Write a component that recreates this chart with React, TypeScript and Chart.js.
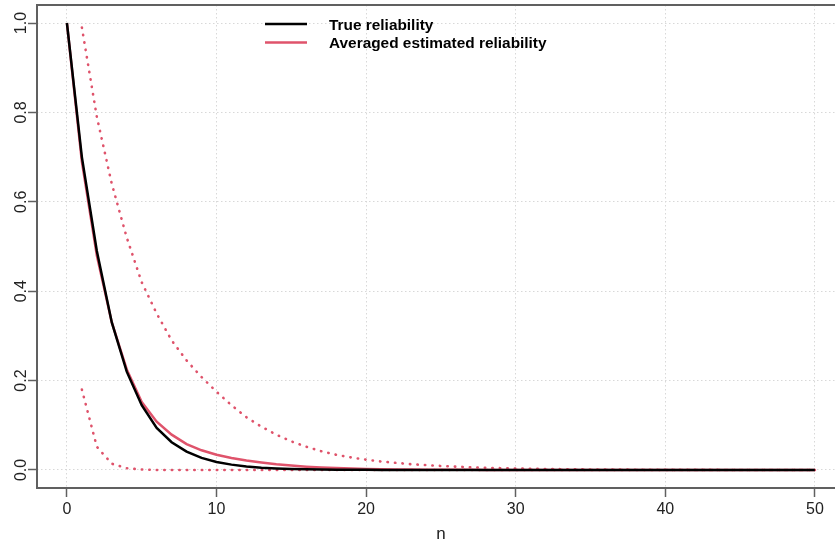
import React, { useEffect, useRef } from "react";
import { Chart, registerables } from "chart.js";

Chart.register(...registerables);

// ---- data ----
const N_ALL = [
  0, 1, 2, 3, 4, 5, 6, 7, 8, 9, 10, 11, 12, 13, 14, 15, 16, 17, 18, 19, 20, 21, 22, 23, 24, 25,
  26, 27, 28, 29, 30, 31, 32, 33, 34, 35, 36, 37, 38, 39, 40, 41, 42, 43, 44, 45, 46, 47, 48, 49, 50,
];
const N_BOUNDS = [
  1, 2, 3, 4, 5, 6, 7, 8, 9, 10, 11, 12, 13, 14, 15, 16, 17, 18, 19, 20, 21, 22, 23, 24, 25,
  26, 27, 28, 29, 30, 31, 32, 33, 34, 35, 36, 37, 38, 39, 40, 41, 42, 43, 44, 45, 46, 47, 48, 49, 50,
];

const TRUE_RELIABILITY = [
  1.0, 0.7, 0.49, 0.33, 0.22, 0.145, 0.094, 0.062, 0.041, 0.027, 0.018, 0.012, 0.008, 0.005,
  0.0034, 0.0023, 0.0015, 0.001, 0.0007, 0.0005, 0.0003, 0.0002, 0.0001, 0.0001, 0,
  0, 0, 0, 0, 0, 0, 0, 0, 0, 0, 0, 0, 0, 0, 0, 0, 0, 0, 0, 0, 0, 0, 0, 0, 0, 0,
];

const AVG_ESTIMATED = [
  1.0, 0.69, 0.48, 0.33, 0.225, 0.152, 0.108, 0.079, 0.058, 0.044, 0.034, 0.027, 0.021, 0.017,
  0.013, 0.01, 0.0075, 0.0056, 0.0042, 0.0032, 0.0024, 0.0018, 0.0013, 0.001, 0.0007, 0.0005,
  0.0004, 0.0003, 0.0002, 0.0001, 0,
  0, 0, 0, 0, 0, 0, 0, 0, 0, 0, 0, 0, 0, 0, 0, 0, 0, 0, 0, 0,
];

const UPPER_BOUND = [
  0.99, 0.79, 0.64, 0.52, 0.42, 0.35, 0.29, 0.245, 0.208, 0.175, 0.145, 0.118, 0.097, 0.079,
  0.064, 0.052, 0.042, 0.034, 0.028, 0.023, 0.019, 0.016, 0.013, 0.011, 0.009, 0.0075, 0.006,
  0.005, 0.004, 0.0033, 0.0027, 0.0022, 0.0018, 0.0015, 0.0012, 0.001, 0.0008, 0.0006, 0.0005,
  0.0004, 0.0003, 0.0002, 0.0002, 0.0001, 0.0001, 0.0001, 0, 0, 0, 0,
];

const LOWER_BOUND = [
  0.18, 0.052, 0.014, 0.004, 0.001, 0, 0, 0, 0, 0, 0, 0, 0, 0, 0, 0, 0, 0, 0, 0, 0, 0, 0, 0, 0,
  0, 0, 0, 0, 0, 0, 0, 0, 0, 0, 0, 0, 0, 0, 0, 0, 0, 0, 0, 0, 0, 0, 0, 0, 0,
];

const SERIES_LABELS = ["True reliability", "Averaged estimated reliability"];
const X_TICKS = [0, 10, 20, 30, 40, 50];
const X_TICK_LABELS = ["0", "10", "20", "30", "40", "50"];
const Y_TICKS = [0, 0.2, 0.4, 0.6, 0.8, 1.0];
const Y_TICK_LABELS = ["0.0", "0.2", "0.4", "0.6", "0.8", "1.0"];
const X_TITLE = "n";

// ---- styles ----
const RED = "#DF536B";
const BLACK = "#000000";
const BOX_COLOR = "#606060";
const GRID_COLOR = "#d8d8d8";
const TEXT_COLOR = "#222222";
const FONT_FAMILY = "'Liberation Sans', Arial, sans-serif";

const toPoints = (xs: number[], ys: number[]) => xs.map((x, i) => ({ x, y: ys[i] }));

const decorPlugin = {
  id: "decor",
  afterDraw(chart: any) {
    const { ctx, chartArea: a, scales } = chart;
    const xs = scales.x;
    const ys = scales.y;
    ctx.save();

    // box: top, left, bottom (the right side lies beyond the visible page)
    ctx.strokeStyle = BOX_COLOR;
    ctx.lineWidth = 2;
    ctx.setLineDash([]);
    ctx.beginPath();
    ctx.moveTo(a.right, a.top);
    ctx.lineTo(a.left, a.top);
    ctx.lineTo(a.left, a.bottom);
    ctx.lineTo(a.right, a.bottom);
    ctx.stroke();

    // tick labels
    ctx.fillStyle = TEXT_COLOR;
    ctx.font = `16px ${FONT_FAMILY}`;
    ctx.textAlign = "center";
    ctx.textBaseline = "alphabetic";
    X_TICKS.forEach((v, i) => {
      ctx.fillText(X_TICK_LABELS[i], xs.getPixelForValue(v), a.bottom + 25.5);
    });
    Y_TICKS.forEach((v, i) => {
      ctx.save();
      ctx.translate(a.left - 11.5, ys.getPixelForValue(v));
      ctx.rotate(-Math.PI / 2);
      ctx.fillText(Y_TICK_LABELS[i], 0, 0);
      ctx.restore();
    });

    // axis title
    ctx.font = `17px ${FONT_FAMILY}`;
    ctx.fillText(X_TITLE, xs.getPixelForValue(25), a.bottom + 51);

    // legend
    const lx0 = 265;
    const lx1 = 307;
    const tx = 329;
    const rows = [a.top + 19, a.top + 37.5];
    ctx.font = `bold 15.4px ${FONT_FAMILY}`;
    ctx.textAlign = "left";
    [0, 1].forEach((di) => {
      const ds = chart.data.datasets[di];
      const y = rows[di];
      ctx.strokeStyle = ds.borderColor;
      ctx.lineWidth = 2.5;
      ctx.beginPath();
      ctx.moveTo(lx0, y);
      ctx.lineTo(lx1, y);
      ctx.stroke();
      ctx.fillStyle = "#000";
      ctx.fillText(ds.label, tx, y + 5.5);
    });

    ctx.restore();
  },
};

export default function App() {
  const canvasRef = useRef<HTMLCanvasElement | null>(null);

  useEffect(() => {
    const canvas = canvasRef.current;
    if (!canvas) return;
    document.body.style.overflow = "hidden";

    const common = {
      pointRadius: 0,
      pointHoverRadius: 0,
      tension: 0,
      fill: false,
    };

    const chart = new Chart(canvas, {
      type: "line",
      data: {
        datasets: [
          {
            ...common,
            label: SERIES_LABELS[0],
            data: toPoints(N_ALL, TRUE_RELIABILITY),
            borderColor: BLACK,
            borderWidth: 2.5,
          },
          {
            ...common,
            label: SERIES_LABELS[1],
            data: toPoints(N_ALL, AVG_ESTIMATED),
            borderColor: RED,
            borderWidth: 2.5,
          },
          {
            ...common,
            label: "upper",
            data: toPoints(N_BOUNDS, UPPER_BOUND),
            borderColor: RED,
            borderWidth: 2.6,
            borderDash: [0.4, 7.1],
            borderCapStyle: "round",
          },
          {
            ...common,
            label: "lower",
            data: toPoints(N_BOUNDS, LOWER_BOUND),
            borderColor: RED,
            borderWidth: 2.6,
            borderDash: [0.4, 7.1],
            borderCapStyle: "round",
          },
        ],
      } as any,
      options: {
        animation: false,
        responsive: false,
        maintainAspectRatio: false,
        layout: { padding: { top: 5, right: 55.2, left: 0, bottom: 0 } },
        plugins: {
          legend: { display: false },
          tooltip: { enabled: false },
        },
        scales: {
          x: {
            type: "linear",
            min: -2,
            max: 52,
            afterBuildTicks: (s: any) => {
              s.ticks = X_TICKS.map((value) => ({ value }));
            },
            afterFit: (s: any) => {
              s.height = 57;
            },
            ticks: { display: false },
            grid: {
              color: GRID_COLOR,
              lineWidth: 1,
              drawTicks: true,
              tickLength: 9,
              tickColor: BOX_COLOR,
              tickWidth: 1.5,
              tickBorderDash: [],
            },
            border: { display: false, dash: [1.5, 2.5] },
          },
          y: {
            type: "linear",
            min: -0.0403,
            max: 1.0403,
            afterBuildTicks: (s: any) => {
              s.ticks = Y_TICKS.map((value) => ({ value }));
            },
            afterFit: (s: any) => {
              s.width = 37;
            },
            ticks: { display: false },
            grid: {
              color: GRID_COLOR,
              lineWidth: 1,
              drawTicks: true,
              tickLength: 9,
              tickColor: BOX_COLOR,
              tickWidth: 1.5,
              tickBorderDash: [],
            },
            border: { display: false, dash: [1.5, 2.5] },
          },
        },
      } as any,
      plugins: [decorPlugin],
    });

    return () => chart.destroy();
  }, []);

  return (
    <div
      style={{
        position: "fixed",
        left: 0,
        top: 0,
        width: 835,
        height: 545,
        overflow: "hidden",
        background: "#fff",
      }}
    >
      <canvas ref={canvasRef} width={900} height={545} style={{ display: "block" }} />
    </div>
  );
}
